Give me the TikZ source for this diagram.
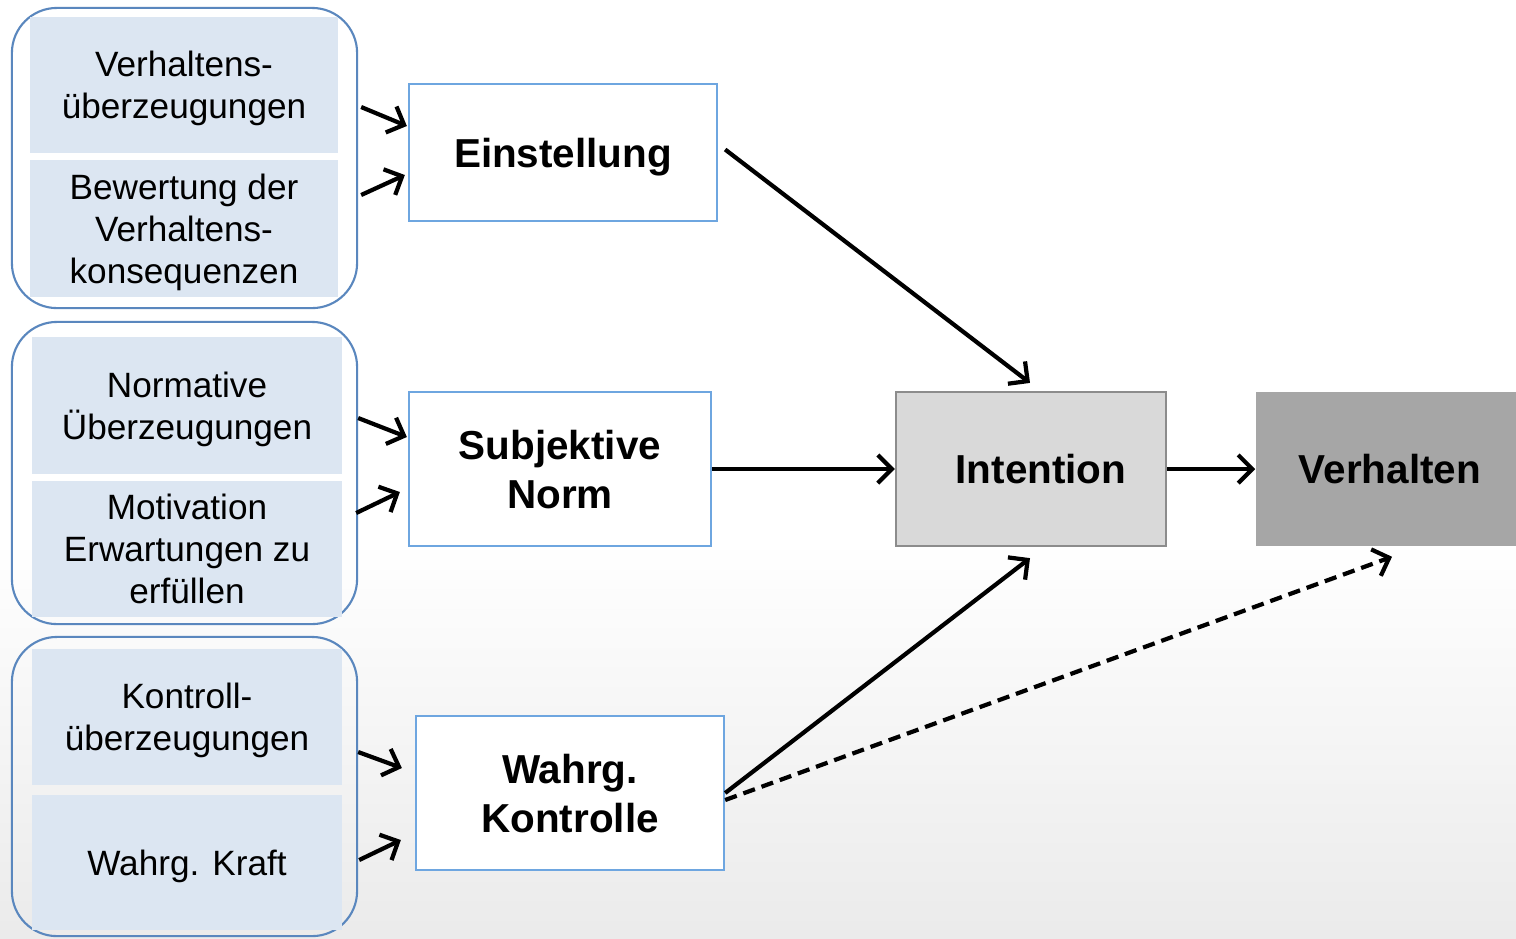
\documentclass[tikz,border=0pt]{standalone}
\usepackage{fontspec}
\setmainfont{Liberation Sans}
\usepackage{xcolor}
\usetikzlibrary{arrows.meta, calc, positioning}
\definecolor{grpblue}{HTML}{5A87BE}
\definecolor{cellfill}{HTML}{DCE6F2}
\definecolor{boxblue}{HTML}{6EA6E0}
\definecolor{intentfill}{HTML}{D9D9D9}
\definecolor{intentdraw}{HTML}{8C8C8C}
\definecolor{verhfill}{HTML}{A6A6A6}

\begin{document}
\begin{tikzpicture}[x=0.01cm, y=-0.01cm,
  group/.style={draw=grpblue, line width=0.6pt, rounded corners=0.45cm, minimum width=3.45cm},
  cell/.style={fill=cellfill, minimum width=3.08cm, inner sep=0pt, align=center, text depth=0pt,
    font=\fontsize{10}{12}\selectfont},
  stage/.style={draw=boxblue, line width=0.6pt, fill=white, inner sep=0pt, align=center, text depth=0pt,
    font=\fontsize{11.5}{14}\selectfont\bfseries},
  arr/.style={-{Straight Barb[length=4pt,width=8pt]}, line width=1.2pt}]
\useasboundingbox (0,0) rectangle (1516,938);
\fill[white] (0,0) rectangle (1516,541);
\shade[top color=white, bottom color=black!8] (0,540) rectangle (1516,938);

% belief groups
\node (grpA) [group, minimum height=3.0cm] at (184.5,158) {};
\node (grpB) [group, minimum height=3.02cm] at (184.5,473) {};
\node (grpC) [group, minimum height=2.99cm] at (184.5,786.5) {};

\node (verhUeb) [cell, minimum height=1.36cm] at (184,85) {Verhaltens-\\überzeugungen};
\node (bewert) [cell, minimum height=1.37cm] at (184,228.5) {Bewertung der\\Verhaltens-\\konsequenzen};
\node (normUeb) [cell, minimum width=3.1cm, minimum height=1.37cm] at (187,405.5) {Normative\\Überzeugungen};
\node (motiv) [cell, minimum width=3.1cm, minimum height=1.36cm] at (187,549) {Motivation\\Erwartungen zu\\erfüllen};
\node (kontrUeb) [cell, minimum width=3.1cm, minimum height=1.36cm] at (187,717) {Kontroll-\\überzeugungen};
\node (kraft) [cell, minimum width=3.1cm, minimum height=1.35cm] at (187,862.5) {Wahrg. Kraft};

% constructs
\node (einst) [stage, minimum width=3.08cm, minimum height=1.37cm] at (563,152.5) {Einstellung};
\node (norm) [stage, minimum width=3.02cm, minimum height=1.54cm] at (560,469) {Subjektive\\Norm};
\node (kontr) [stage, minimum width=3.08cm, minimum height=1.54cm] at (570,793) {Wahrg.\\Kontrolle};
\node (intent) [draw=intentdraw, fill=intentfill, line width=0.6pt, minimum width=2.7cm,
  minimum height=1.54cm, text depth=0pt, font=\fontsize{11.5}{14}\selectfont\bfseries] at (1031,469) {\hspace*{0.2cm}Intention};
\node (verh) [fill=verhfill, minimum width=2.68cm, minimum height=1.54cm, text depth=0pt,
  font=\fontsize{11.5}{14}\selectfont\bfseries] at (1390,469) {Verhalten};

% inputs
\draw[arr] ($(grpA.east)+(3,-51)$) -- ($(einst.west)+(-1,-26.5)$);
\draw[arr] ($(grpA.east)+(3,37)$) -- ($(einst.west)+(-3,22.5)$);
\draw[arr] ($(grpB.east)+(0,-55)$) -- ($(norm.west)+(-1,-32)$);
\draw[arr] ($(grpB.east)+(-2,40)$) -- ($(norm.west)+(-8,23)$);
\draw[arr] ($(grpC.east)+(0,-34.5)$) -- ($(kontr.west)+(-13,-25)$);
\draw[arr] ($(grpC.east)+(1,73.5)$) -- ($(kontr.west)+(-14,47)$);

% paths
\draw[arr] ($(einst.east)+(7,-3)$) -- ($(intent.north)+(-1,-8)$);
\draw[arr] (norm.east) -- (intent.west);
\draw[arr] (intent.east) -- (verh.west);
\draw[arr] (kontr.east) -- ($(intent.south)+(-1,11)$);
\draw[arr, dash pattern=on 3.5pt off 2pt] ($(kontr.east)+(0,7)$) -- ($(verh.south)+(2,10)$);
\end{tikzpicture}
\end{document}
